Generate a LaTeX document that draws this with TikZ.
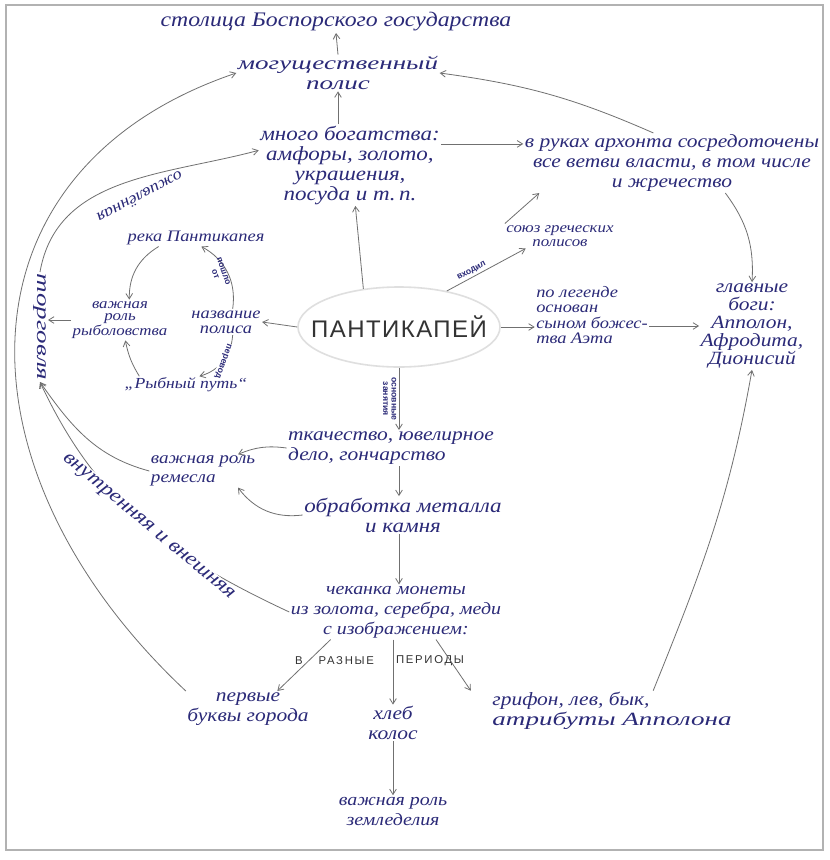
\documentclass[tikz,border=0pt]{standalone}
\usepackage{fontspec}
\newfontfamily\hand{Liberation Serif}[FakeStretch=1.15]
\newfontfamily\handw{Liberation Serif}[FakeStretch=1.45]
\newfontfamily\capsfont{Liberation Sans}[LetterSpace=6]
\newfontfamily\capslab{Liberation Sans}[LetterSpace=15]
\newfontfamily\labfont{Liberation Sans}
\usetikzlibrary{arrows.meta,shapes.geometric}
\definecolor{ink}{HTML}{2B2A78}
\definecolor{pencil}{HTML}{707070}
\begin{document}
\begin{tikzpicture}[x=0.75pt,y=-0.75pt,
  txt/.style={font=\hand\itshape\fontsize{14}{15}\selectfont, text=ink, align=center, inner sep=1pt},
  txts/.style={font=\hand\itshape\fontsize{12}{11.5}\selectfont, text=ink, align=center, inner sep=1pt},
  lab/.style={font=\labfont\bfseries\fontsize{6.5}{6.5}\selectfont, text=ink, inner sep=0.5pt, align=center},
  labcaps/.style={font=\capslab\fontsize{8.5}{8.5}\selectfont, text=black!80, inner sep=1pt},
  arr/.style={draw=pencil, line width=0.6pt, -{Straight Barb[length=4pt,width=5pt]}},
  pannode/.style={ellipse, draw=gray!25, line width=1.2pt, fill=white, minimum width=151.5pt, minimum height=60pt,
    inner sep=0pt, font=\capsfont\fontsize{18}{18}\selectfont, text=black!80}]
\useasboundingbox (0,0) rectangle (830,860);
\fill[white] (0,0) rectangle (830,860);
\draw[gray!60, line width=1pt] (6,5) rectangle (823,850);

% nodes
\node[txt, font=\hand\itshape\fontsize{15.5}{15}\selectfont] (capital) at (336,22) {столица Боспорского государства};
\node[txt, font=\handw\itshape\fontsize{14}{15}\selectfont] (mogush) at (338,73) {могущественный\\полис};
\node[txt, font=\hand\itshape\fontsize{15}{15}\selectfont] (wealth) at (350,165) {много богатства:\\амфоры, золото,\\украшения,\\посуда и т.\,п.};
\node[txt] (archon) at (672,163) {в руках архонта сосредоточены\\все ветви власти, в том числе\\и жречество};
\node[txts, font=\hand\itshape\fontsize{11}{11}\selectfont] (union) at (560,236) {союз греческих\\полисов};
\node[txts] (river) at (196,238) {река Пантикапея};
\node[txts, font=\hand\itshape\fontsize{11}{9.5}\selectfont] (fish) at (120,320) {важная\\роль\\рыболовства};
\node[txts] (name) at (226,322) {название\\полиса};
\node[txts, font=\hand\itshape\fontsize{11.5}{11.5}\selectfont] (fishway) at (186,385) {„Рыбный путь“};
\node[pannode] (pan) at (399,327) {\makebox[0pt]{ПАНТИКАПЕЙ}};
\node[txts, align=left] (legend) at (592,315) {по легенде\\основан\\сыном божес-\\тва Аэта};
\node[txt, font=\hand\itshape\fontsize{14}{13.5}\selectfont] (gods) at (752,326) {главные\\боги:\\Апполон,\\Афродита,\\Дионисий};
\node[txt, font=\handw\itshape\fontsize{14}{15}\selectfont, rotate=-90] (trade) at (40,327) {торговля};
\node[txt, align=left] (weaving) at (391,448) {ткачество, ювелирное\\дело, гончарство};
\node[txt, align=left, font=\hand\itshape\fontsize{12.5}{14}\selectfont] (craft) at (203,471) {важная роль\\ремесла};
\node[txt, font=\hand\itshape\fontsize{15}{15}\selectfont] (metal) at (403,515) {обработка металла\\и камня};
\node[txt, font=\hand\itshape\fontsize{13}{15}\selectfont] (coins) at (396,612) {чеканка монеты\\из золота, серебра, меди\\с изображением:};
\node[txt] (letters) at (248,709) {первые\\буквы города};
\node[txt] (bread) at (393,723) {хлеб\\колос};
\node[txt, align=left] (griffin) at (612,711) {грифон, лев, бык,\\{\handw атрибуты Апполона}};
\node[txt, font=\hand\itshape\fontsize{13}{15}\selectfont] (farming) at (393,811) {важная роль\\земледелия};
\node[txts, rotate=208] (lively) at (140,197) {оживлённая};

% connectors
\draw[arr] (mogush.north) -- (capital.south);
\draw[arr] (mogush.south |- wealth.north) -- (mogush.south);
\draw[arr] (pan.133) -- ([xshift=4pt]wealth.south);
\draw[arr] (wealth.13) -- (archon.west |- wealth.13);
\draw[arr] ([xshift=-14pt]archon.north) to[bend right=8] (mogush.east);
\draw[arr] ([xshift=40pt]archon.south) to[bend left=20] (gods.north);
\draw[arr] (pan.37) -- node[lab, sloped, above=1pt, pos=0.35] {входил} (union.200);
\draw[arr] (union.north west) -- ([xshift=12pt]archon.south west);
\draw[arr] (pan.east) -- (legend.west |- pan.east);
\draw[arr] (legend.east |- gods.west) -- (gods.west);
\draw[arr] (pan.west) -- (name.east);
\draw[arr] ([xshift=5pt]name.north) to[bend right=35] node[lab, xshift=-6pt, rotate=-70] {пошло\\от} ([xshift=4pt]river.south);
\draw[arr] ([xshift=5pt]name.south) to[bend left=35] node[lab, fill=white, rotate=-110] {перевод} ([xshift=10pt]fishway.north);
\draw[arr] ([xshift=-28pt]river.south) to[bend right=30] ([xshift=7pt]fish.north);
\draw[arr] ([xshift=-35pt]fishway.north) to[bend left=10] ([xshift=4pt]fish.south);
\draw[arr] (fish.west) -- (trade.north |- fish.west);
\draw[arr] (trade.west) to[out=80, in=195] ([yshift=11pt]wealth.west);
\draw[arr] (letters.north west) .. controls (-50,470) and (-50,170) .. (mogush.west);
\draw[arr] (coins.west) to[out=155, in=-65] node[txt, font=\hand\itshape\fontsize{15}{15}\selectfont, sloped, fill=white, pos=0.47] {внутренняя и внешняя} (trade.east);
\draw[arr] (craft.west) to[out=165, in=-55] (trade.east);
\draw[arr] (weaving.west) to[bend right=15] ([xshift=-14pt]craft.north east);
\draw[arr] (metal.west) to[bend left=30] ([xshift=-14pt]craft.south east);
\draw[arr] (pan.south) -- node[lab, xshift=-7pt, rotate=-90] {основные\\занятия} (pan.south |- weaving.north);
\draw[arr] (pan.south |- weaving.south) -- (pan.south |- metal.north);
\draw[arr] (pan.south |- metal.south) -- (pan.south |- coins.north);
\draw[arr] ([xshift=-49pt]coins.south) -- ([xshift=22pt]letters.north);
\draw[arr] (bread.north |- coins.south) -- node[labcaps, pos=0.32, left=13pt] {В\hspace{12pt}РАЗНЫЕ} node[labcaps, pos=0.32, right=1pt] {ПЕРИОДЫ} (bread.north);
\draw[arr] ([xshift=30pt]coins.south) -- ([xshift=-15pt]griffin.north west);
\draw[arr] (bread.south) -- (farming.north);
\draw[arr] ([xshift=-60pt]griffin.north east) to[out=68, in=-100] (gods.south);
\end{tikzpicture}
\end{document}
